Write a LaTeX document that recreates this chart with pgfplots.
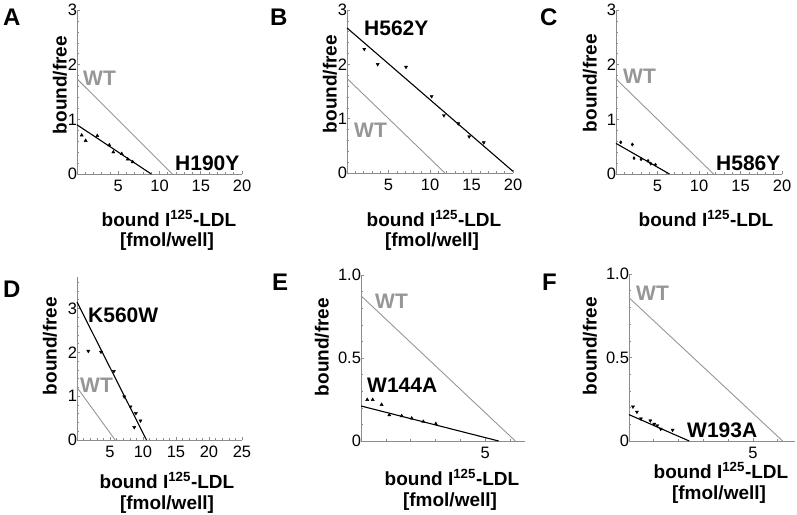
\documentclass[border=0pt]{standalone}
\usepackage{pgfplots}
\pgfplotsset{compat=1.18}
\usepackage{fontspec}
\setmainfont{Liberation Sans}
\definecolor{wtgray}{RGB}{150,150,150}
\definecolor{axgray}{RGB}{140,140,140}

\pgfplotsset{
  panel/.style={
    scale only axis, clip=false,
    axis x line*=bottom, axis y line*=left,
    axis line style={-, draw=axgray, line width=0.8pt},
    xmin=0, ymin=0,
    tick style={draw=axgray, line width=0.6pt},
    major tick length=3pt, minor tick length=2pt,
    tick label style={font=\fontsize{16.5}{17}\selectfont},
    /pgf/number format/assume math mode=true,
    xticklabel style={yshift=-2.5pt}, yticklabel style={xshift=3.5pt},
  },
  wt/.style={draw=wtgray, line width=0.9pt, no markers},
  fit/.style={draw=black, line width=1.1pt, no markers},
  up/.style={only marks, black, mark=triangle*, mark size=1.8pt},
  down/.style={only marks, black, mark=triangle*, mark size=1.8pt, mark options={rotate=180}},
  dot/.style={only marks, black, mark=diamond*, mark size=1.6pt},
}

\newcommand{\lab}{\fontsize{19}{21}\selectfont\bfseries}
\newcommand{\mut}{\fontsize{21}{23}\selectfont\bfseries}
\newcommand{\pan}{\fontsize{24}{26}\selectfont\bfseries}

\begin{document}
\begin{tikzpicture}
\path[use as bounding box] (0pt,0pt) rectangle (797pt,-514pt);

% A
\begin{axis}[panel, at={(77pt,-174pt)}, anchor=south west, width=165pt, height=164pt,
  xmax=20, ymax=3, xtick={5,10,15,20}, ytick={0,1,2,3},
  minor xtick={1,2,...,20}, minor ytick={0.2,0.4,...,2.8}]
\addplot[wt] coordinates {(0,1.74) (11.55,0)};
\addplot[fit] coordinates {(0,0.90) (9.0,0)};
\addplot[up] coordinates {(0.57,0.71) (1.05,0.61) (2.46,0.70) (3.92,0.53) (4.40,0.40) (5.42,0.37) (6.15,0.27) (6.75,0.22)};
\end{axis}

% B
\begin{axis}[panel, at={(347pt,-173pt)}, anchor=south west, width=166pt, height=163pt,
  xmax=20, ymax=3, xtick={5,10,15,20}, ytick={0,1,2,3},
  minor xtick={1,2,...,20}, minor ytick={0.2,0.4,...,2.8}]
\addplot[wt] coordinates {(0,1.74) (11.8,0)};
\addplot[fit] coordinates {(0,2.67) (20,0.03)};
\addplot[down] coordinates {(2.08,2.28) (3.70,2.00) (7.11,1.95) (10.2,1.41) (11.68,1.06) (13.4,0.91) (14.72,0.67) (16.48,0.56)};
\end{axis}

% C
\begin{axis}[panel, at={(616pt,-174pt)}, anchor=south west, width=166pt, height=164pt,
  xmax=20, ymax=3, xtick={5,10,15,20}, ytick={0,1,2,3},
  minor xtick={1,2,...,20}, minor ytick={0.2,0.4,...,2.8}]
\addplot[wt] coordinates {(0,1.74) (11.75,0)};
\addplot[fit] coordinates {(0,0.56) (6.44,0)};
\addplot[dot] coordinates {(0.57,0.58) (1.97,0.54) (2.17,0.29) (3.02,0.27) (3.86,0.24) (4.19,0.19) (4.75,0.17)};
\end{axis}

% D
\begin{axis}[panel, at={(77pt,-440pt)}, anchor=south west, width=165pt, height=163pt,
  xmax=25, ymax=3.72, xtick={5,10,15,20,25}, ytick={0,1,2,3},
  minor xtick={1,2,...,25}, minor ytick={0.2,0.4,...,3.6}]
\addplot[wt] coordinates {(0,1.20) (5.79,0)};
\addplot[fit] coordinates {(0,3.15) (10.53,0)};
\addplot[down] coordinates {(1.71,2.03) (3.63,2.01) (5.59,1.57) (7.15,0.99) (8.11,0.76) (8.92,0.61) (9.62,0.44) (8.67,0.29)};
\end{axis}

% E
\begin{axis}[panel, at={(361pt,-441pt)}, anchor=south west, width=164pt, height=166pt,
  xmax=6.6, ymax=1, xtick={5}, ytick={0,0.5,1}, yticklabels={0,0.5,1.0},
  minor xtick={1,2,3,4,6}, minor ytick={0.1,0.2,...,0.9}]
\addplot[wt] coordinates {(0,0.875) (6.21,0)};
\addplot[fit] coordinates {(0,0.211) (5.54,0)};
\addplot[up] coordinates {(0.25,0.249) (0.47,0.249) (0.83,0.219) (1.14,0.157) (1.64,0.151) (2.04,0.137) (2.51,0.117) (3.01,0.104)};
\end{axis}

% F
\begin{axis}[panel, at={(629pt,-441pt)}, anchor=south west, width=166pt, height=167pt,
  xmax=6.7, ymax=1, xtick={5}, ytick={0,0.5,1}, yticklabels={0,0.5,1.0},
  minor xtick={1,2,3,4,6}, minor ytick={0.1,0.2,...,0.9}]
\addplot[wt] coordinates {(0,0.858) (6.2,0)};
\addplot[fit] coordinates {(0,0.158) (2.43,0)};
\addplot[down] coordinates {(0.16,0.205) (0.32,0.174) (0.48,0.134) (0.86,0.122) (1.02,0.102) (1.14,0.092) (1.28,0.072) (1.76,0.066)};
\end{axis}

% panel letters
\node[anchor=base west, font=\pan, inner sep=0pt] at (3pt,-25pt) {A};
\node[anchor=base west, font=\pan, inner sep=0pt] at (270pt,-25pt) {B};
\node[anchor=base west, font=\pan, inner sep=0pt] at (540pt,-25pt) {C};
\node[anchor=base west, font=\pan, inner sep=0pt] at (3pt,-297pt) {D};
\node[anchor=base west, font=\pan, inner sep=0pt] at (272pt,-290pt) {E};
\node[anchor=base west, font=\pan, inner sep=0pt] at (542pt,-290pt) {F};

% line labels
\node[anchor=base west, font=\mut, text=wtgray, inner sep=0pt] at (83pt,-85pt) {WT};
\node[anchor=base west, font=\mut, inner sep=0pt] at (175pt,-170pt) {H190Y};
\node[anchor=base west, font=\mut, text=wtgray, inner sep=0pt] at (354pt,-137pt) {WT};
\node[anchor=base west, font=\mut, inner sep=0pt] at (364pt,-35pt) {H562Y};
\node[anchor=base west, font=\mut, text=wtgray, inner sep=0pt] at (623pt,-83pt) {WT};
\node[anchor=base west, font=\mut, inner sep=0pt] at (716pt,-170pt) {H586Y};
\node[anchor=base west, font=\mut, text=wtgray, inner sep=0pt] at (80pt,-392pt) {WT};
\node[anchor=base west, font=\mut, inner sep=0pt] at (88pt,-322pt) {K560W};
\node[anchor=base west, font=\mut, text=wtgray, inner sep=0pt] at (375pt,-308pt) {WT};
\node[anchor=base west, font=\mut, inner sep=0pt] at (367pt,-392pt) {W144A};
\node[anchor=base west, font=\mut, text=wtgray, inner sep=0pt] at (636pt,-300pt) {WT};
\node[anchor=base west, font=\mut, inner sep=0pt] at (687pt,-437pt) {W193A};

% y labels
\foreach \x/\y in {60/-85, 330/-84, 590/-83, 50/-346, 322/-347, 590/-346}
  \node[rotate=90, font=\lab, inner sep=0pt] at (\x pt,\y pt) {bound/free};

% x labels
\node[anchor=base, font=\lab] at (169pt,-226pt) {bound I\textsuperscript{125}-LDL};
\node[anchor=base, font=\lab] at (167pt,-246pt) {[fmol/well]};
\node[anchor=base, font=\lab] at (434pt,-226pt) {bound I\textsuperscript{125}-LDL};
\node[anchor=base, font=\lab] at (432pt,-246pt) {[fmol/well]};
\node[anchor=base, font=\lab] at (706pt,-226pt) {bound I\textsuperscript{125}-LDL};
\node[anchor=base, font=\lab] at (167pt,-488pt) {bound I\textsuperscript{125}-LDL};
\node[anchor=base, font=\lab] at (167pt,-509pt) {[fmol/well]};
\node[anchor=base, font=\lab] at (452pt,-485pt) {bound I\textsuperscript{125}-LDL};
\node[anchor=base, font=\lab] at (450pt,-506pt) {[fmol/well]};
\node[anchor=base, font=\lab] at (721pt,-478pt) {bound I\textsuperscript{125}-LDL};
\node[anchor=base, font=\lab] at (719pt,-499pt) {[fmol/well]};
\end{tikzpicture}
\end{document}
